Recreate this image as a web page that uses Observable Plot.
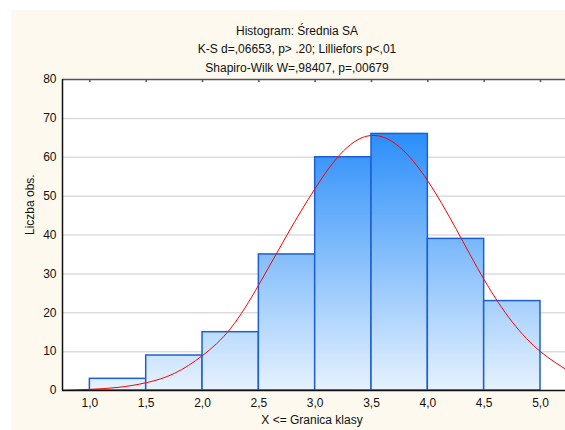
<!DOCTYPE html>
<html><head><meta charset="utf-8">
<script src="https://cdn.jsdelivr.net/npm/d3@7"></script>
<script src="https://cdn.jsdelivr.net/npm/@observablehq/plot@0.6"></script>
<style>
html,body{margin:0;padding:0;background:#fff;overflow:hidden;}
#bg{position:absolute;left:11px;top:10px;width:554px;height:420px;background:#fdf9ef;}
#chart{position:absolute;left:0;top:0;}
</style></head><body><div id="bg"></div><div id="chart"></div>
<script>
// Histogram classes (upper boundaries) and counts
const binStart = [1.0, 1.5, 2.0, 2.5, 3.0, 3.5, 4.0, 4.5];
const binEnd   = [1.5, 2.0, 2.5, 3.0, 3.5, 4.0, 4.5, 5.0];
const counts   = [3, 9, 15, 35, 60, 66, 39, 23];

// Expected normal curve
const curveX = [0.75, 1.0, 1.25, 1.5, 1.75, 2.0, 2.25, 2.5, 2.75, 3.0, 3.25, 3.5, 3.75, 4.0, 4.25, 4.5, 4.75, 5.0, 5.25];
const curveY = [0.1, 0.3, 0.8, 2.0, 4.4, 9.0, 16.0, 27.2, 40.0, 52.0, 61.6, 65.6, 62.6, 53.9, 41.6, 28.5, 17.6, 10.0, 5.0];

const xTicks = [1.0, 1.5, 2.0, 2.5, 3.0, 3.5, 4.0, 4.5, 5.0];
const yTicks = [0, 10, 20, 30, 40, 50, 60, 70, 80];
const xDomain = [0.757, 5.222];
const yDomain = [0, 80];

const titleLines = ["Histogram: Średnia SA", "K-S d=,06653, p> .20; Lilliefors p<,01", "Shapiro-Wilk W=,98407, p=,00679"];
const xLabel = "X <= Granica klasy";
const yLabel = "Liczba obs.";

const bars = binStart.map((s, i) => ({x1: s, x2: binEnd[i], y: counts[i]}));
const curve = curveX.map((x, i) => ({x, y: curveY[i]}));
const titleDy = [-53, -35, -16];

const chart = Plot.plot({
  width: 565, height: 430,
  marginLeft: 62, marginRight: 0, marginTop: 79, marginBottom: 40,
  style: {background: "transparent", fontFamily: "'Liberation Sans', Arial, sans-serif", fontSize: "12px", color: "#111", overflow: "hidden"},
  x: {domain: xDomain, ticks: xTicks, tickFormat: d => d.toFixed(1).replace(".", ","), tickSize: 0, tickPadding: 8, label: null},
  y: {domain: yDomain, ticks: yTicks, tickSize: 0, tickPadding: 6, label: null},
  marks: [
    Plot.frame({fill: "white", stroke: null}),
    Plot.gridY(yTicks.filter(t => t > yDomain[0] && t < yDomain[1]), {stroke: "#dcdcdc", strokeOpacity: 1, strokeWidth: 1.5}),
    Plot.rectY(bars, {x1: "x1", x2: "x2", y: "y", fill: "url(#barGrad)", stroke: "#1d5fd0", strokeWidth: 1.5}),
    Plot.line(curve, {x: "x", y: "y", stroke: "#ff0000", strokeWidth: 1, curve: "natural", clip: true}),
    Plot.ruleY([yDomain[1]], {stroke: "#555", strokeWidth: 1.5}),
    Plot.ruleX(xTicks, {x: d => d, y1: yDomain[1], y2: yDomain[1] - 0.8, stroke: "#555", strokeWidth: 1.5}),
    Plot.ruleY([yDomain[0]], {stroke: "#111", strokeWidth: 1.5}),
    Plot.ruleX([xDomain[0]], {stroke: "#111", strokeWidth: 1.5}),
    ...titleLines.map((t, i) => Plot.text([t], {frameAnchor: "top", dx: -17, dy: titleDy[i], fill: "#111", fontSize: 12})),
    Plot.text([yLabel], {frameAnchor: "left", dx: -32, rotate: -90, fill: "#111", fontSize: 12}),
    Plot.text([xLabel], {frameAnchor: "bottom", dy: 33, dx: -2, fill: "#111", fontSize: 12})
  ]
});

const ys = chart.scale("y");
const defs = d3.select(chart).insert("defs", ":first-child");
const grad = defs.append("linearGradient").attr("id", "barGrad")
  .attr("gradientUnits", "userSpaceOnUse")
  .attr("x1", 0).attr("x2", 0)
  .attr("y1", ys.apply(0)).attr("y2", ys.apply(d3.max(counts)));
grad.append("stop").attr("offset", 0).attr("stop-color", "#e6f2fe");
grad.append("stop").attr("offset", 1).attr("stop-color", "#2b8efa");

document.getElementById("chart").appendChild(chart);
</script>
</body></html>
